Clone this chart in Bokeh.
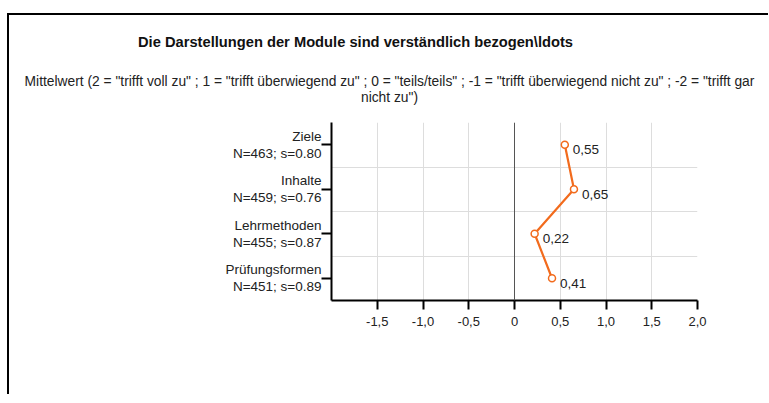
from bokeh.plotting import figure
from bokeh.models import FixedTicker, Label, ColumnDataSource, Span
from bokeh.core.properties import value
from bokeh.embed import file_html
from bokeh.resources import INLINE

categories = ["Ziele", "Inhalte", "Lehrmethoden", "Prüfungsformen"]
stats = ["N=463; s=0.80", "N=459; s=0.76", "N=455; s=0.87", "N=451; s=0.89"]
means = [0.55, 0.65, 0.22, 0.41]
x_ticks = [-1.5, -1.0, -0.5, 0.0, 0.5, 1.0, 1.5, 2.0]
x_tick_labels = ["-1,5", "-1,0", "-0,5", "0", "0,5", "1,0", "1,5", "2,0"]
title_text = "Die Darstellungen der Module sind verständlich bezogen\\ldots"
subtitle_1 = 'Mittelwert (2 = "trifft voll zu" ; 1 = "trifft überwiegend zu" ; 0 = "teils/teils" ; -1 = "trifft überwiegend nicht zu" ; -2 = "trifft gar'
subtitle_2 = 'nicht zu")'

FONT = "Liberation Sans"
W = 759
H_TOP = 100

# ---- header (titles) ----
tf = figure(frame_width=W, frame_height=H_TOP, min_border=0, x_range=(0, W), y_range=(0, H_TOP),
            x_axis_type=None, y_axis_type=None, output_backend="svg", toolbar_location=None)
tf.outline_line_color = None
tf.grid.visible = False
tf.add_layout(Label(x=346, y=H_TOP - 26, x_units="screen", y_units="screen", text=title_text,
                    text_align="center", text_baseline="middle", text_font=FONT,
                    text_font_size="14.7px", text_font_style="bold", text_color="#111111"))
tf.add_layout(Label(x=380, y=H_TOP - 66, x_units="screen", y_units="screen", text=subtitle_1,
                    text_align="center", text_baseline="middle", text_font=FONT,
                    text_font_size="13.8px", text_color="#222222"))
tf.add_layout(Label(x=380, y=H_TOP - 82, x_units="screen", y_units="screen", text=subtitle_2,
                    text_align="center", text_baseline="middle", text_font=FONT,
                    text_font_size="13.8px", text_color="#222222"))
tf.styles = {"border-top": "2px solid #000", "border-left": "2px solid #000",
             "margin-top": "13px", "margin-left": "7px"}

# ---- main chart ----
n = len(categories)
ypos = [n - i for i in range(n)]
src = ColumnDataSource(dict(x=means, y=ypos, lab=[f"{v:.2f}".replace(".", ",") for v in means]))

p = figure(frame_width=366, frame_height=178, min_border_left=322, min_border_right=W - 322 - 366,
           min_border_top=107 - H_TOP, min_border_bottom=94,
           x_range=(-2, 2), y_range=(0.5, n + 0.5),
           output_backend="svg", toolbar_location=None)
p.outline_line_color = None
p.styles = {"border-left": "2px solid #000", "margin-left": "7px"}

p.xaxis.ticker = FixedTicker(ticks=x_ticks)
p.xaxis.major_label_overrides = {t: l for t, l in zip(x_ticks, x_tick_labels)}
p.yaxis.ticker = FixedTicker(ticks=ypos)
p.yaxis.major_label_overrides = {y: f"{c}\n{s}" for y, c, s in zip(ypos, categories, stats)}
for ax in (p.xaxis[0], p.yaxis[0]):
    ax.axis_line_width = 2
    ax.axis_line_color = "black"
    ax.major_tick_line_color = "black"
    ax.major_tick_line_width = 2
    ax.major_tick_in = 0
    ax.minor_tick_line_color = None
    ax.major_label_text_font = FONT
    ax.major_label_text_color = "#222222"
p.xaxis.major_label_text_font_size = "13px"
p.yaxis.major_label_text_font_size = "13.5px"
p.xaxis.major_tick_out = 9
p.xaxis.major_label_standoff = 7
p.yaxis.major_tick_out = 10
p.yaxis.major_label_standoff = 0
p.yaxis.major_label_text_line_height = 1.15

p.xgrid.ticker = FixedTicker(ticks=x_ticks)
p.xgrid.grid_line_color = "#dddddd"
p.ygrid.ticker = FixedTicker(ticks=[1.5, 2.5, 3.5, 4.5])
p.ygrid.grid_line_color = "#dddddd"

p.add_layout(Span(location=0, dimension="height", line_color="#555555", line_width=1))

p.line("x", "y", source=src, line_color="#f26b1d", line_width=2.2)
p.scatter("x", "y", source=src, size=7, fill_color="white", line_color="#f26b1d", line_width=1.5)
p.text("x", "y", text="lab", source=src, x_offset=8, y_offset=5, text_baseline="middle",
       text_font=value(FONT), text_font_size="13.5px", text_color="#222222")

open("out.html", "w").write(file_html((tf, p), INLINE))
